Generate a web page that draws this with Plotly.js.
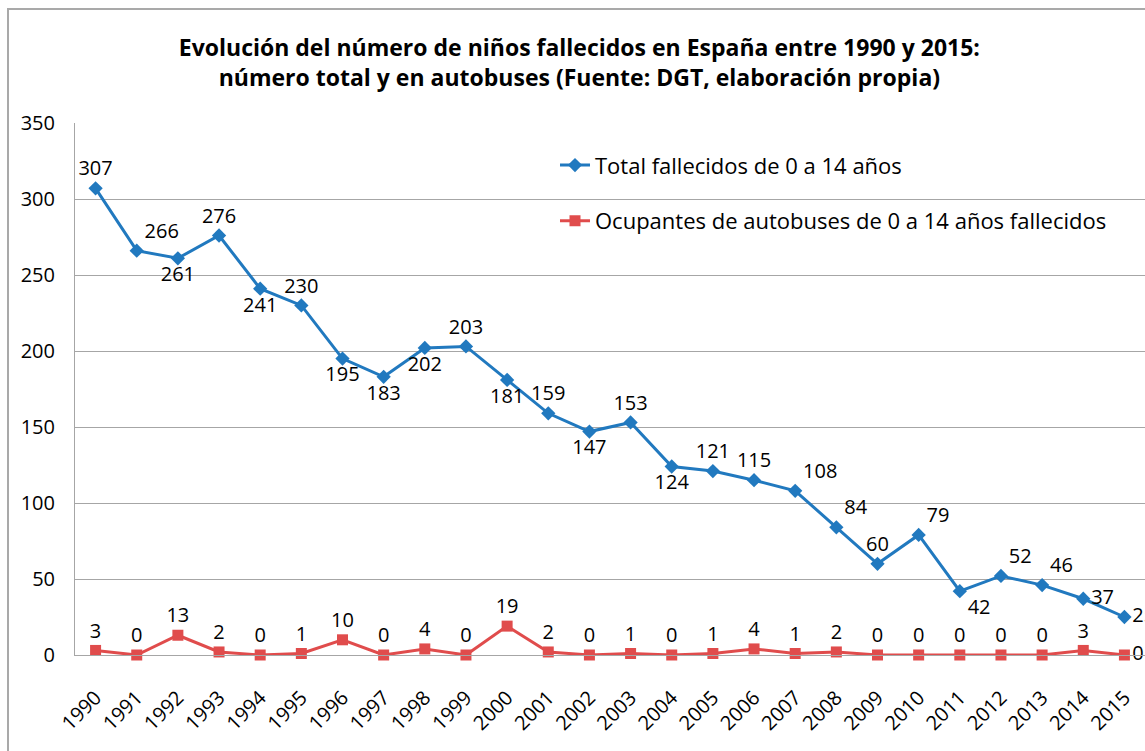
<!DOCTYPE html>
<html>
<head>
<meta charset="utf-8">
<script src="https://cdn.plot.ly/plotly-3.0.1.min.js"></script>
<style>
  html, body { margin: 0; padding: 0; overflow: hidden; background: #fff; }
  #frame {
    position: absolute; left: 7px; top: 8px; width: 1300px; height: 900px;
    border-left: 2px solid #a9a9a9; border-top: 2px solid #a9a9a9;
    pointer-events: none;
  }
  #chart { position: absolute; left: 0; top: 0; width: 1145px; height: 751px; }
</style>
</head>
<body>
<div id="chart"></div>
<div id="frame"></div>
<script>
const years = ["1990", "1991", "1992", "1993", "1994", "1995", "1996", "1997", "1998", "1999",
  "2000", "2001", "2002", "2003", "2004", "2005", "2006", "2007", "2008", "2009",
  "2010", "2011", "2012", "2013", "2014", "2015"];
const totalDeaths = [307, 266, 261, 276, 241, 230, 195, 183, 202, 203,
  181, 159, 147, 153, 124, 121, 115, 108, 84, 60,
  79, 42, 52, 46, 37, 25];
const busDeaths = [3, 0, 13, 2, 0, 1, 10, 0, 4, 0,
  19, 2, 0, 1, 0, 1, 4, 1, 2, 0,
  0, 0, 0, 0, 3, 0];

// where each data label sits around its point
const totalLabelPos = [
  "top center", "top right", "bottom center", "top center", "bottom center",
  "top center", "bottom center", "bottom center", "bottom center", "top center",
  "bottom center", "top center", "bottom center", "top center", "bottom center",
  "top center", "top center", "top right", "top right", "top center",
  "top right", "bottom right", "top right", "top right", "middle right", "middle right"
];
const busLabelPos = years.map((_, i) => i === years.length - 1 ? "middle right" : "top center");

const FONT = "'Open Sans', Lato, sans-serif";
const BLUE = "#2179bf";
const RED = "#e04c4c";

function makeTrace(name, values, color, symbol, size, positions, group) {
  return {
    type: "scatter",
    mode: "lines+markers+text",
    name,
    legendgroup: group,
    x: years,
    y: values,
    text: values.map(String),
    textposition: positions,
    textfont: { family: FONT, size: 20, color: "#000" },
    cliponaxis: false,
    line: { color, width: 3 },
    marker: { color, symbol, size },
    hoverinfo: "x+y"
  };
}

function renderChart() {
  const traces = [
    makeTrace("Total fallecidos de 0 a 14 años", totalDeaths, BLUE, "diamond", 11, totalLabelPos, "a"),
    makeTrace("Ocupantes de autobuses de 0 a 14 años fallecidos", busDeaths, RED, "square", 11, busLabelPos, "b")
  ];

  const layout = {
    width: 1145,
    height: 751,
    paper_bgcolor: "rgba(0,0,0,0)",
    plot_bgcolor: "rgba(0,0,0,0)",
    margin: { l: 75, r: 0, t: 123, b: 96 },
    font: { family: FONT, size: 20, color: "#000" },
    title: {
      text: "<b>Evolución del número de niños fallecidos en España entre 1990 y 2015:<br>número total y en autobuses (Fuente: DGT, elaboración propia)</b>",
      font: { family: FONT, size: 23, color: "#000" },
      x: 0.506,
      xanchor: "center",
      y: 0.925,
      yanchor: "top"
    },
    xaxis: {
      type: "category",
      range: [-0.5, 25.5],
      tickangle: -45,
      showgrid: false,
      showline: true,
      linecolor: "#a6a6a6",
      linewidth: 1,
      ticks: "outside",
      ticklen: 22,
      tickcolor: "rgba(0,0,0,0)",
      tickfont: { family: FONT, size: 20, color: "#000" },
      fixedrange: true
    },
    yaxis: {
      range: [0, 350],
      dtick: 50,
      showgrid: true,
      gridcolor: "#a6a6a6",
      gridwidth: 1,
      showline: true,
      linecolor: "#a6a6a6",
      zeroline: false,
      ticks: "outside",
      ticklen: 15,
      tickcolor: "rgba(0,0,0,0)",
      tickfont: { family: FONT, size: 20, color: "#000" },
      fixedrange: true
    },
    showlegend: true,
    legend: {
      x: 0.4486,
      y: 0.96,
      xanchor: "left",
      yanchor: "top",
      bgcolor: "rgba(0,0,0,0)",
      tracegroupgap: 24,
      font: { family: FONT, size: 22, color: "#000" }
    }
  };

  Plotly.newPlot("chart", traces, layout, { displayModeBar: false, staticPlot: true });
}

document.addEventListener("DOMContentLoaded", renderChart);
</script>
</body>
</html>
